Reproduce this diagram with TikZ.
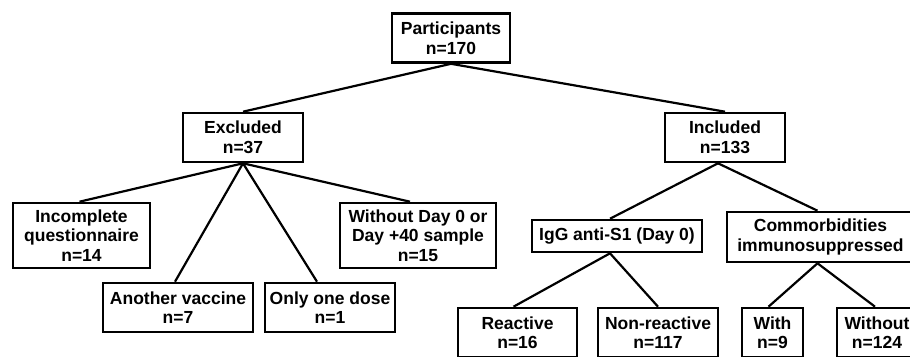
\documentclass[tikz,border=0pt]{standalone}
\usepackage{fontspec}
\setmainfont{Liberation Sans}
\begin{document}
\begin{tikzpicture}[x=1pt,y=-1pt,
  box/.style={draw, line width=2.6pt, inner sep=0pt, align=center,
    font=\fontsize{17.5}{19.5}\selectfont\bfseries},
  link/.style={line width=2.2pt}]
\useasboundingbox[fill=white] (0,0) rectangle (910,356);
% level 0
\node[box, minimum width=118pt, minimum height=49pt] (p) at (451,38) {Participants\\n=170};
% level 1
\node[box, minimum width=120pt, minimum height=49pt] (ex) at (243,137.5) {Excluded\\n=37};
\node[box, minimum width=120pt, minimum height=49pt] (in) at (725,137.5) {Included\\n=133};
% level 2 excluded
\node[box, minimum width=137pt, minimum height=65pt] (iq) at (81.5,235.5) {Incomplete\\questionnaire\\n=14};
\node[box, minimum width=156pt, minimum height=65pt] (wd) at (418,235.5) {Without Day 0 or\\Day +40 sample\\n=15};
\node[box, minimum width=150pt, minimum height=49pt] (av) at (178,307.5) {Another vaccine\\n=7};
\node[box, minimum width=130pt, minimum height=49pt] (od) at (330,307.5) {Only one dose\\n=1};
% level 2 included
\node[box, minimum width=170pt, minimum height=32pt] (igg) at (617,236) {IgG anti-S1 (Day 0)};
\node[box, minimum width=187pt, minimum height=50pt] (com) at (820.5,237) {Commorbidities\\immunosuppressed};
% level 3
\node[box, minimum width=119pt, minimum height=49pt] (re) at (517.5,332.5) {Reactive\\n=16};
\node[box, minimum width=120pt, minimum height=49pt] (nr) at (658,332.5) {Non-reactive\\n=117};
\node[box, minimum width=61pt, minimum height=49pt] (wi) at (772.5,332.5) {With\\n=9};
\node[box, minimum width=80pt, minimum height=49pt] (wo) at (877,332.5) {Without\\n=124};
% connectors
\draw[link] (p.south) -- (ex.north);
\draw[link] (p.south) -- (in.north);
\draw[link] (ex.south) -- ([xshift=-2pt]iq.north);
\draw[link] (ex.south) -- ([xshift=-3pt]av.north);
\draw[link] (ex.south) -- ([xshift=-13pt]od.north);
\draw[link] (ex.south) -- ([xshift=-8pt]wd.north);
\draw[link] ([xshift=-7pt]in.south) -- ([xshift=-7pt]igg.north);
\draw[link] ([xshift=-7pt]in.south) -- ([xshift=-3pt]com.north);
\draw[link] ([xshift=-7pt]igg.south) -- ([xshift=-4pt]re.north);
\draw[link] ([xshift=-7pt]igg.south) -- (nr.north);
\draw[link] ([xshift=-3pt]com.south) -- ([xshift=-4pt]wi.north);
\draw[link] ([xshift=-3pt]com.south) -- ([xshift=-2pt]wo.north);
\end{tikzpicture}
\end{document}
